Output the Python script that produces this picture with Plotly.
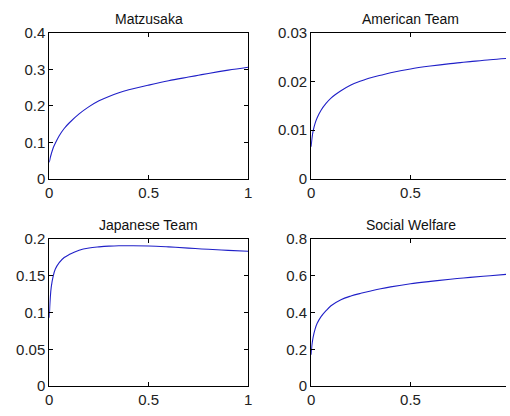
import plotly.graph_objects as go

# ---- data ----
x_vals = [0.0, 0.005, 0.01, 0.02, 0.03, 0.05, 0.075, 0.1, 0.15, 0.2, 0.25, 0.3, 0.35, 0.4,
          0.5, 0.6, 0.7, 0.75, 0.8, 0.9, 1.0]

matzusaka = [0.045, 0.058, 0.068, 0.085, 0.097, 0.118, 0.138, 0.153, 0.178, 0.198, 0.214,
             0.226, 0.236, 0.244, 0.257, 0.269, 0.279, 0.284, 0.289, 0.298, 0.306]

american = [0.0066, 0.0085, 0.0098, 0.0114, 0.0125, 0.0141, 0.0155, 0.0166, 0.0181, 0.0193,
            0.0201, 0.0208, 0.0213, 0.0218, 0.0226, 0.0232, 0.0237, 0.0239, 0.0241, 0.0245,
            0.0248]

japanese = [0.093, 0.120, 0.135, 0.150, 0.159, 0.168, 0.175, 0.179, 0.185, 0.188, 0.1895,
            0.1905, 0.191, 0.191, 0.1908, 0.1895, 0.1878, 0.187, 0.1862, 0.1848, 0.1835]

social = [0.17, 0.23, 0.265, 0.31, 0.34, 0.378, 0.41, 0.437, 0.47, 0.49, 0.505, 0.518,
          0.53, 0.54, 0.557, 0.57, 0.582, 0.587, 0.592, 0.601, 0.61]

titles = ["Matzusaka", "American Team", "Japanese Team", "Social Welfare"]
series = [matzusaka, american, japanese, social]

y_ranges = [[0, 0.4], [0, 0.03], [0, 0.2], [0, 0.8]]
y_tickvals = [[0, 0.1, 0.2, 0.3, 0.4],
              [0, 0.01, 0.02, 0.03],
              [0, 0.05, 0.1, 0.15, 0.2],
              [0, 0.2, 0.4, 0.6, 0.8]]
y_ticktext = [["0", "0.1", "0.2", "0.3", "0.4"],
              ["0", "0.01", "0.02", "0.03"],
              ["0", "0.05", "0.1", "0.15", "0.2"],
              ["0", "0.2", "0.4", "0.6", "0.8"]]
x_tickvals = [0, 0.5, 1]
x_ticktext = ["0", "0.5", "1"]

# ---- layout (pixel geometry of the 510x416 canvas) ----
W, H = 510, 416
cols = [(46, 248), (312, 514)]      # left/right pixel edges of plot areas
rows = [(25, 177), (240, 393)]      # top/bottom pixel edges of plot areas

tick_font = dict(family="Liberation Sans Narrow, Arial Narrow, Liberation Sans, Arial", size=15, color="#222222")
title_font = dict(family="Liberation Sans, Arial", size=14, color="#111111")

fig = go.Figure()
annotations = []
for i in range(4):
    r, c = divmod(i, 2)
    n = i + 1
    xa = "x" if n == 1 else f"x{n}"
    ya = "y" if n == 1 else f"y{n}"
    fig.add_trace(go.Scatter(x=x_vals, y=series[i], mode="lines",
                             line=dict(color="#2020c8", width=1.1, shape="spline"),
                             xaxis=xa, yaxis=ya, showlegend=False, hoverinfo="skip"))
    x0p, x1p = cols[c]
    y0p, y1p = rows[r]
    px_per_unit = (x1p - x0p) / 1.0
    if x1p > W:
        dom_x = [x0p / W, 1.0]
        xr = [0, (W - x0p) / px_per_unit]
    else:
        dom_x = [x0p / W, x1p / W]
        xr = [0, 1]
    dom_y = [1 - y1p / H, 1 - y0p / H]
    fig.layout[("xaxis" if n == 1 else f"xaxis{n}")] = dict(
        domain=dom_x, range=xr, anchor=ya, tickvals=x_tickvals, ticktext=x_ticktext,
        showgrid=False, zeroline=False, showline=True, linecolor="black", linewidth=1,
        mirror="ticks", ticks="inside", ticklen=4, tickcolor="black", tickfont=tick_font,
        fixedrange=True)
    fig.layout[("yaxis" if n == 1 else f"yaxis{n}")] = dict(
        domain=dom_y, range=y_ranges[i], anchor=xa, tickvals=y_tickvals[i],
        ticktext=y_ticktext[i], showgrid=False, zeroline=False, showline=True,
        linecolor="black", linewidth=1, mirror=("ticks" if c == 0 else False),
        ticks="inside", ticklen=4, tickcolor="black", tickfont=tick_font, fixedrange=True)
    cx = (x0p + x1p) / 2
    annotations.append(dict(text=titles[i], x=cx / W, y=1 - (y0p - 15) / H,
                            xref="paper", yref="paper", xanchor="center", yanchor="middle",
                            showarrow=False, font=title_font))

fig.update_layout(width=W, height=H, margin=dict(l=0, r=0, t=0, b=0),
                  paper_bgcolor="white", plot_bgcolor="white", annotations=annotations)

fig.write_html("out.html", config={"displayModeBar": False},
               post_script="document.body.style.margin='0';")
